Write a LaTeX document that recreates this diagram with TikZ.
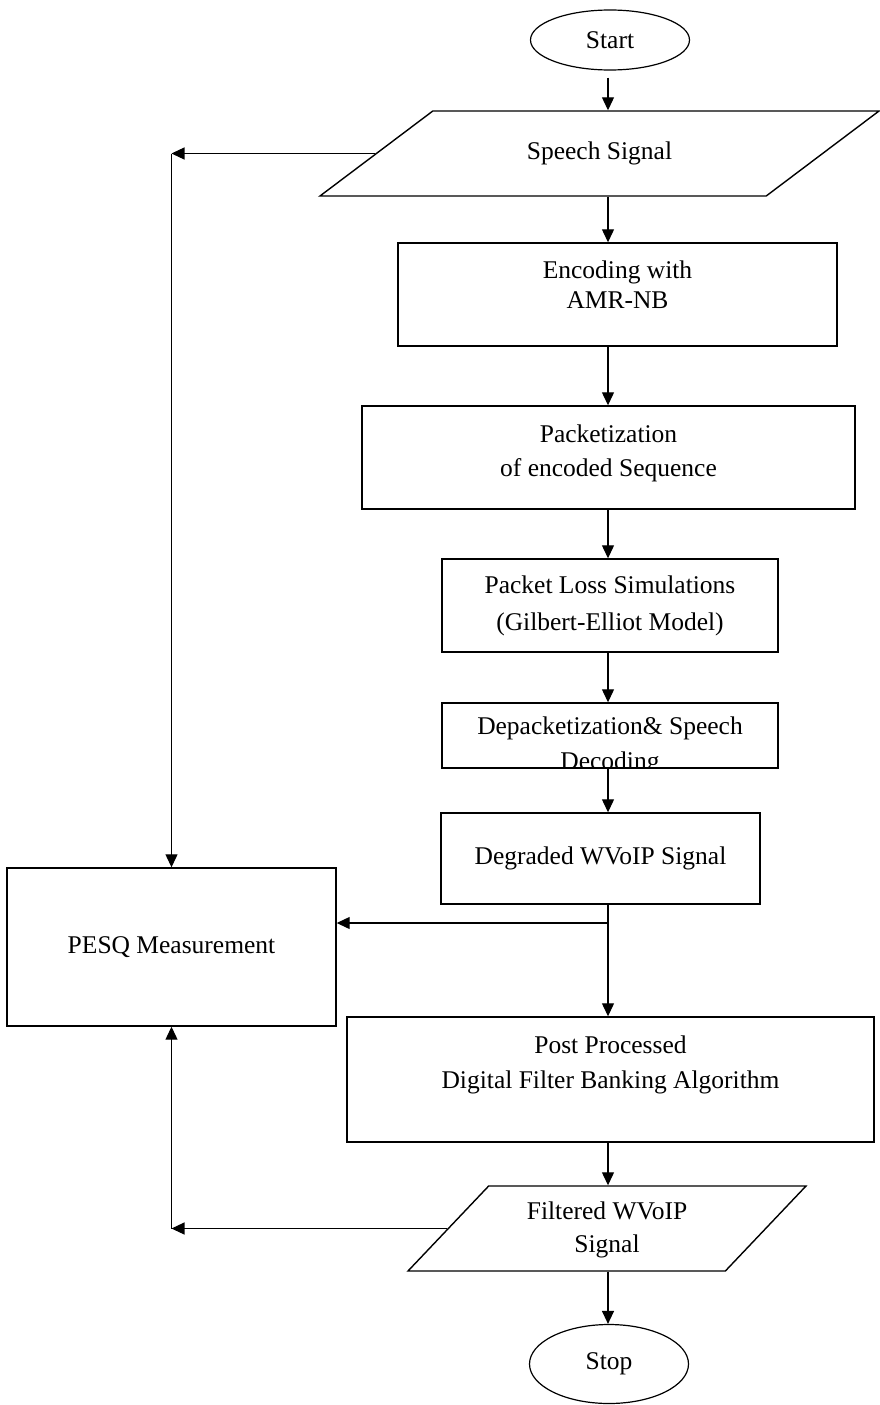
\documentclass[tikz,border=0pt]{standalone}
\usepackage{fontspec}
\setmainfont{Liberation Serif}
\usetikzlibrary{arrows.meta, shapes.geometric}

\begin{document}
\begin{tikzpicture}[x=1pt, y=-1pt, >={Triangle[length=13pt, width=12pt]},
  font=\fontsize{25.5}{34}\selectfont,
  box/.style={draw, line width=1.4pt, align=center, inner sep=2pt},
  term/.style={draw, ellipse, line width=1.2pt, inner sep=0pt},
  io/.style={draw, trapezium, trapezium stretches body, line width=1.4pt, align=center, inner sep=0pt},
  flow/.style={->, line width=1.2pt}]
  \useasboundingbox (0,0) rectangle (879,1405);

  % Blocks
  \node[term, minimum width=159pt, minimum height=60pt] (start) at (610,40) {Start};
  \node[io, trapezium left angle=37, trapezium right angle=143, minimum width=559pt, text height=48pt, text depth=37pt] (speech) at (599.5,153.5) {Speech Signal};
  \node[box, minimum width=439pt, minimum height=103pt, font=\fontsize{25.5}{30}\selectfont] (enc) at (617.5,294.5) {Encoding with\\AMR-NB\\[-10pt]~};
  \node[box, minimum width=493pt, minimum height=103pt] (pack) at (608.5,457.5) {Packetization\\of encoded Sequence\\[-20pt]~};
  \node[box, minimum width=336pt, minimum height=93pt, font=\fontsize{25.5}{37}\selectfont] (loss) at (610,605.5) {Packet Loss Simulations\\(Gilbert-Elliot Model)};
  \node[box, minimum width=336pt, minimum height=65pt,
    path picture={\node[align=center, font=\fontsize{25.5}{35}\selectfont] (depacktext) at ([yshift=-10pt]path picture bounding box.center) {Depacketization\& Speech\\Decoding};}] (depack) at (610,735.5) {};
  \node[box, minimum width=319pt, minimum height=91pt] (degr) at (600.5,858.5) {Degraded WVoIP Signal};
  \node[box, minimum width=329pt, minimum height=158pt] (pesq) at (171.5,947) {PESQ Measurement};
  \node[box, minimum width=527pt, minimum height=125pt, font=\fontsize{25.5}{35}\selectfont] (post) at (610.5,1079.5) {Post Processed\\Digital Filter Banking Algorithm\\~};
  \node[io, trapezium left angle=46.5, trapezium right angle=133.5, minimum width=398pt, text height=66pt, text depth=19pt, font=\fontsize{25.5}{33}\selectfont] (filt) at (607,1228.5) {Filtered WVoIP\\Signal};
  \node[term, minimum width=159pt, minimum height=79pt] (stop) at (609,1364) {Stop};

  % Helper points
  \coordinate (axis) at (608,0);
  \coordinate (split) at (608,923);
  \coordinate (topcorner) at (speech.left side -| pesq.north);
  \coordinate (botcorner) at (filt.left side -| pesq.south);

  % Main flow
  \draw[flow, shorten <=7pt] (start.south -| axis) -- (speech.north -| axis);
  \draw[flow] (speech.south -| axis) -- (enc.north -| axis);
  \draw[flow] (enc.south -| axis) -- (pack.north -| axis);
  \draw[flow] (pack.south -| axis) -- (loss.north -| axis);
  \draw[flow] (loss.south -| axis) -- (depack.north -| axis);
  \draw[flow] (depack.south -| axis) -- (degr.north -| axis);
  \draw[flow] (degr.south -| axis) -- (post.north -| axis);
  \draw[flow] (post.south -| axis) -- (filt.north -| axis);
  \draw[flow] (filt.south -| axis) -- (stop.north -| axis);

  % Feedback to PESQ
  \draw[flow] (split) -- (split -| pesq.east);
  \draw[flow] (speech.left side) -- (topcorner);
  \draw[flow] (topcorner) -- (pesq.north);
  \draw[flow] (filt.left side) -- (botcorner);
  \draw[flow] (botcorner) -- (pesq.south);
\end{tikzpicture}
\end{document}
